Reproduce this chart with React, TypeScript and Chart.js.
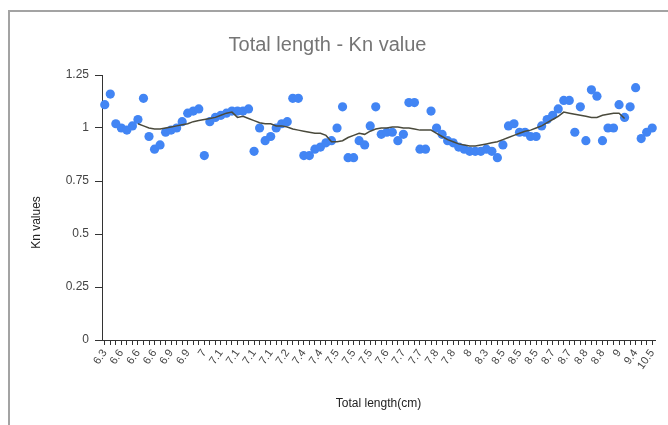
import React, { useEffect, useRef } from "react";
import { Chart, registerables } from "chart.js";

Chart.register(...registerables);

const chartTitle = "Total length - Kn value";
const xTitle = "Total length(cm)";
const yTitle = "Kn values";

const lengthLabels: string[] = [
  "6.3", "6.4", "6.5", "6.6", "6.6", "6.6", "6.6", "6.6", "6.6", "6.6",
  "6.7", "6.8", "6.9", "6.9", "6.9", "6.9", "7", "7", "7", "7",
  "7.1", "7.1", "7.1", "7.1", "7.1", "7.1", "7.1", "7.1", "7.1", "7.1",
  "7.1", "7.2", "7.2", "7.2", "7.3", "7.3", "7.4", "7.4", "7.4", "7.4",
  "7.5", "7.5", "7.5", "7.5", "7.5", "7.5", "7.5", "7.5", "7.5", "7.6",
  "7.6", "7.6", "7.7", "7.7", "7.7", "7.7", "7.7", "7.7", "7.8", "7.8",
  "7.8", "7.8", "7.8", "7.8", "7.9", "8", "8", "8.1", "8.2", "8.3",
  "8.4", "8.5", "8.5", "8.5", "8.5", "8.5", "8.5", "8.5", "8.5", "8.6",
  "8.6", "8.7", "8.7", "8.7", "8.7", "8.8", "8.8", "8.8", "8.8", "8.8",
  "8.8", "8.9", "9", "9", "9.1", "9.2", "9.4", "9.6", "9.8", "10.5",
];

const knValues: number[] = [
  1.11, 1.16, 1.02, 1.0, 0.99, 1.01, 1.04, 1.14, 0.96, 0.9,
  0.92, 0.98, 0.99, 1.0, 1.03, 1.07, 1.08, 1.09, 0.87, 1.03,
  1.05, 1.06, 1.07, 1.08, 1.08, 1.08, 1.09, 0.89, 1.0, 0.94,
  0.96, 1.0, 1.02, 1.03, 1.14, 1.14, 0.87, 0.87, 0.9, 0.91,
  0.93, 0.94, 1.0, 1.1, 0.86, 0.86, 0.94, 0.92, 1.01, 1.1,
  0.97, 0.98, 0.98, 0.94, 0.97, 1.12, 1.12, 0.9, 0.9, 1.08,
  1.0, 0.97, 0.94, 0.93, 0.91, 0.9, 0.89, 0.89, 0.89, 0.9,
  0.89, 0.86, 0.92, 1.01, 1.02, 0.98, 0.98, 0.96, 0.96, 1.01,
  1.04, 1.06, 1.09, 1.13, 1.13, 0.98, 1.1, 0.94, 1.18, 1.15,
  0.94, 1.0, 1.0, 1.11, 1.05, 1.1, 1.19, 0.95, 0.98, 1.0,
];

const trendValues: (number | null)[] = [
  null, null, null, null, null, null, 1.02, 1.01, 1.0, 0.995,
  0.995, 1.0, 1.005, 1.01, 1.015, 1.02, 1.03, 1.035, 1.04, 1.045,
  1.05, 1.06, 1.07, 1.075, 1.05, 1.055, 1.045, 1.035, 1.025, 1.02,
  1.02, 1.01, 1.01, 1.005, 0.995, 0.99, 0.985, 0.98, 0.975, 0.975,
  0.965, 0.935, 0.935, 0.94, 0.955, 0.965, 0.975, 0.97, 0.985, 0.995,
  1.0, 1.0, 1.005, 1.005, 1.0, 1.0, 0.995, 0.99, 0.99, 0.99,
  0.975, 0.96, 0.945, 0.935, 0.925, 0.92, 0.915, 0.915, 0.92, 0.925,
  0.93, 0.935, 0.945, 0.955, 0.965, 0.975, 0.985, 0.99, 1.0, 1.01,
  1.025, 1.04, 1.055, 1.075, 1.07, 1.065, 1.06, 1.055, 1.05, 1.05,
  1.06, 1.065, 1.07, 1.07, 1.045, null, null, null, null, null,
];

const FONT = '"Liberation Sans", Arial, sans-serif';

const yTitlePlugin = {
  id: "yTitleDraw",
  afterDraw(chart: any) {
    const { ctx, chartArea } = chart;
    ctx.save();
    ctx.translate(37, (chartArea.top + chartArea.bottom) / 2 + 15);
    ctx.rotate(-Math.PI / 2);
    ctx.font = `12px ${FONT}`;
    ctx.fillStyle = "#222";
    ctx.textAlign = "center";
    ctx.textBaseline = "middle";
    ctx.fillText(yTitle, 0, 0);
    ctx.restore();
  },
};

export default function App() {
  const canvasRef = useRef<HTMLCanvasElement | null>(null);

  useEffect(() => {
    if (!canvasRef.current) return;
    Chart.defaults.font.family = FONT;
    const chart = new Chart(canvasRef.current, {
      type: "line",
      data: {
        labels: lengthLabels,
        datasets: [
          {
            label: "Trend",
            data: trendValues,
            borderColor: "#4a4a3c",
            borderWidth: 1.5,
            pointRadius: 0,
            tension: 0,
            fill: false,
            order: 0,
          },
          {
            label: "Kn",
            data: knValues,
            showLine: false,
            pointRadius: 4.6,
            pointBorderWidth: 0,
            pointBackgroundColor: "#4285f4",
            borderColor: "#4285f4",
            backgroundColor: "#4285f4",
            order: 1,
          },
        ],
      },
      options: {
        animation: false,
        responsive: true,
        maintainAspectRatio: false,
        layout: { padding: { left: 0, right: 13, top: 0, bottom: 0 } },
        plugins: {
          legend: { display: false },
          tooltip: { enabled: false },
          title: {
            display: true,
            text: chartTitle,
            color: "#757575",
            font: { size: 20, weight: "normal" as any },
            padding: { top: 33, bottom: 18 },
          },
        },
        scales: {
          x: {
            type: "category",
            offset: true,
            grid: {
              display: true,
              drawOnChartArea: false,
              offset: false,
              tickLength: 5,
              color: "#333",
            },
            border: { display: true, color: "#333", width: 1 },
            ticks: {
              autoSkip: false,
              minRotation: 55,
              maxRotation: 55,
              padding: 2,
              color: "#444",
              font: { size: 11 },
              callback: (_v: any, i: number) => (i % 3 === 0 ? lengthLabels[i] : ""),
            },
            title: {
              display: true,
              text: xTitle,
              color: "#222",
              font: { size: 12 },
              padding: { top: 0, bottom: 14 },
            },
            afterFit: (s: any) => {
              s.height = 85;
            },
          },
          y: {
            min: 0,
            max: 1.25,
            ticks: {
              stepSize: 0.25,
              color: "#444",
              font: { size: 12 },
              padding: 6,
              callback: (v: any) => String(Number(Number(v).toFixed(2))),
            },
            grid: { drawOnChartArea: false, tickLength: 7, color: "#333" },
            border: { display: true, color: "#333", width: 1 },
            afterFit: (s: any) => {
              s.width = 102;
            },
          },
        },
      },
      plugins: [yTitlePlugin],
    });
    return () => chart.destroy();
  }, []);

  return (
    <div style={{ position: "relative", width: 668, height: 425, overflow: "hidden", background: "#fff" }}>
      <style>{`body{margin:0;}`}</style>
      <div
        style={{
          position: "absolute",
          left: 8,
          top: 10,
          width: 1000,
          height: 1000,
          borderTop: "2px solid #a3a3a3",
          borderLeft: "2px solid #a3a3a3",
        }}
      />
      <div style={{ position: "absolute", left: 0, top: 0, width: 668, height: 425 }}>
        <canvas ref={canvasRef} />
      </div>
    </div>
  );
}
